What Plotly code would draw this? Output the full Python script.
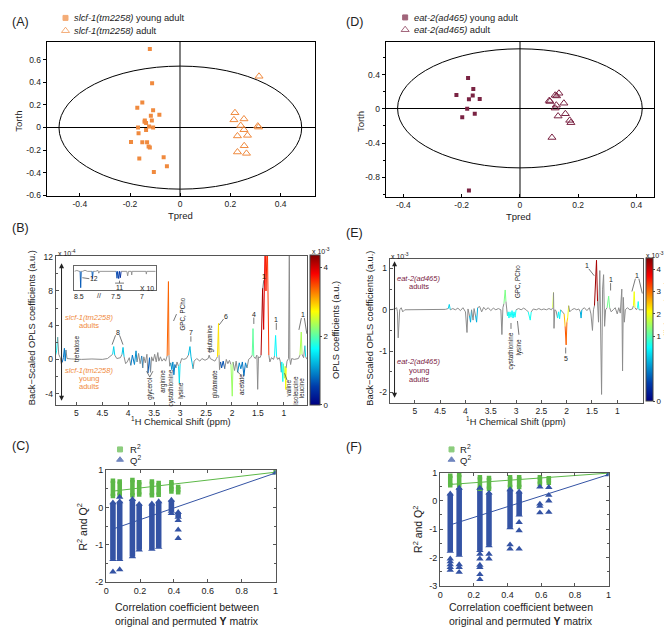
import plotly.graph_objects as go

W, H = 672, 627
FONT = "Liberation Sans, Arial, sans-serif"
ORANGE = "#f08a3e"
MAROON = "#7a2343"
GREEN = "#5cb847"
BLUE = "#3453a4"
GRAY = "#8c8c8c"

# ---------------- Panel A: OPLS-DA scores slcf-1 ----------------
a_young_tpred = [-0.121, -0.112, -0.151, -0.171, -0.108, -0.083, -0.117, -0.141, -0.142, -0.136, -0.113,
                 -0.168, -0.124, -0.108, -0.136, -0.166, -0.151, -0.132, -0.196, -0.126, -0.121, -0.163,
                 -0.066, -0.053, -0.105]
a_young_torth = [0.693, 0.391, 0.220, 0.174, 0.151, 0.113, 0.104, 0.061, 0.050, 0.040, 0.061,
                 0.0, 0.009, 0.0, -0.023, -0.052, -0.13, -0.13, -0.128, -0.168, -0.177, -0.275,
                 -0.264, -0.342, -0.394]
a_adult_tpred = [0.314, 0.218, 0.214, 0.254, 0.241, 0.254, 0.228, 0.268, 0.309, 0.312, 0.255, 0.228, 0.264]
a_adult_torth = [0.452, 0.130, 0.067, 0.075, 0.017, -0.020, -0.075, -0.070, 0.012, 0.003, -0.162, -0.217, -0.229]
a_ellipse = [-0.483, 0.484, -0.545, 0.542]

# ---------------- Panel D: OPLS-DA scores eat-2 ----------------
d_young_tpred = [-0.178, -0.160, -0.218, -0.162, -0.175, -0.138, -0.181, -0.198, -0.155, -0.175]
d_young_torth = [0.358, 0.231, 0.162, 0.154, 0.112, 0.115, 0.0, -0.10, -0.058, -0.954]
d_adult_tpred = [0.134, 0.121, 0.126, 0.101, 0.103, 0.151, 0.125, 0.121, 0.156, 0.131, 0.171, 0.175, 0.110]
d_adult_torth = [0.181, 0.158, 0.150, 0.096, 0.085, 0.065, 0.042, 0.008, -0.058, -0.085, -0.135, -0.162, -0.335]
d_ellipse = [-0.42, 0.42, -0.69, 0.70]

# ---------------- Panel B: back-scaled loadings slcf-1 (x1e-4), coef x1e-3 ----------------
b_ppm = [5.40, 5.38, 5.36, 5.34, 5.31, 5.29, 5.27, 5.25, 5.23, 5.215, 5.20, 5.18, 5.10, 4.90, 4.70, 4.50,
         4.40, 4.35, 4.30, 4.28, 4.26, 4.22, 4.15, 4.12, 4.10, 4.08, 4.05, 4.02, 3.98, 3.95, 3.92, 3.88,
         3.85, 3.83, 3.80, 3.77, 3.74, 3.72, 3.70, 3.67, 3.64, 3.62, 3.59, 3.57, 3.55, 3.52, 3.49, 3.46,
         3.43, 3.41, 3.38, 3.35, 3.31, 3.28, 3.25, 3.225, 3.215, 3.20, 3.18, 3.16, 3.14, 3.12, 3.10, 3.08,
         3.06, 3.03, 3.015, 3.00, 2.97, 2.93, 2.88, 2.84, 2.81, 2.79, 2.77, 2.75, 2.73, 2.68, 2.62, 2.58,
         2.52, 2.46, 2.44, 2.42, 2.38, 2.33, 2.30, 2.28, 2.26, 2.25, 2.24, 2.22, 2.20, 2.17, 2.14, 2.11,
         2.08, 2.05, 2.02, 1.995, 1.98, 1.95, 1.92, 1.89, 1.86, 1.83, 1.80, 1.77, 1.74, 1.71, 1.68, 1.64,
         1.61, 1.595, 1.58, 1.55, 1.52, 1.505, 1.49, 1.46, 1.44, 1.41, 1.39, 1.36, 1.345, 1.32, 1.29, 1.27,
         1.24, 1.20, 1.18, 1.16, 1.14, 1.12, 1.09, 1.07, 1.05, 1.04, 1.02, 1.01, 0.99, 0.975, 0.965, 0.955,
         0.94, 0.91, 0.895, 0.885, 0.87, 0.85, 0.80, 0.72, 0.69, 0.665, 0.65, 0.62, 0.595, 0.58, 0.55]
b_val = [0.5, 1.0, 2.6, 0.6, 0.2, -0.5, -0.3, 0.2, 1.3, -0.2, 1.1, 0.1, 0.05, 0.0, 0.05, 0.0,
         0.1, 0.3, 0.6, 1.5, 0.5, 0.1, 0.2, 0.6, 1.4, 0.3, -0.5, -0.3, 0.2, -0.7, 0.5, -0.6,
         1.0, -0.3, 0.7, -0.5, 0.4, -1.0, 0.3, -0.4, 0.6, -1.6, 0.2, -1.5, 0.3, -0.2, 0.6, -0.3,
         0.8, -0.2, 0.3, -0.2, 0.1, -0.2, 0.4, 9.1, 0.5, -0.8, -0.4, -1.2, -0.3, -1.8, -0.6, -1.0,
         -0.3, -0.8, -2.8, -0.5, 0.1, 0.0, 0.1, 0.5, 1.5, 0.3, -0.4, -1.1, -0.2, 0.1, -0.2, 0.1,
         -0.1, 0.1, 0.5, 0.1, 0.0, -0.2, 0.1, 0.3, 4.2, 0.5, -1.2, -0.3, -1.0, -0.2, -1.1, 0.0,
         -0.5, -0.1, -0.6, -4.3, -0.3, -1.3, -0.2, -1.5, -0.4, -1.1, -0.3, -1.9, -0.4, -1.0, 0.0, 0.2,
         0.5, 3.6, 0.3, 0.1, 0.5, -3.5, 0.3, 0.2, 0.5, 8.3, 3.5, 14.0, 8.0, 14.0, 0.5, -0.3,
         0.2, 0.0, 0.4, 2.8, 0.3, 0.0, 0.2, -0.2, -1.5, -0.3, -2.6, -0.5, -2.2, -0.8, -3.5, -1.0,
         -0.2, 0.1, 14.0, 0.0, -0.6, 0.1, 0.0, 0.1, 0.5, 3.2, 0.6, 0.2, 1.6, 0.3, 0.0]
b_coef = [1.6, 1.6, 1.6, None, None, None, 0.8, 0.8, 0.9, 0.9, 0.9, None, None, None, None, None,
          None, None, 1.4, 1.4, 1.4, None, None, 1.3, 1.3, 1.3, None, None, None, 0.9, 0.9, 0.8,
          1.2, 0.8, None, None, 1.0, 0.8, None, None, None, 0.7, 0.7, 0.8, None, None, None, None,
          1.0, None, None, None, None, None, 3.0, 3.8, 3.0, None, 1.2, 1.0, 1.0, 0.9, 0.9, 0.8,
          None, 1.4, 1.5, 1.4, None, None, None, 1.2, 1.3, 1.2, 1.3, 1.3, None, None, None, None,
          None, None, 1.0, None, None, None, None, 2.8, 2.9, 2.8, None, 0.7, 0.6, 0.7, 0.6, None,
          None, None, 2.2, 2.4, 2.2, None, None, 1.0, 1.0, 0.9, 0.9, 0.8, 0.8, 1.2, None, None,
          2.0, 2.1, 2.0, None, None, None, None, None, 4.0, 4.3, 4.1, 3.7, 3.7, 3.7, 3.5, None,
          None, None, 1.6, 1.6, 1.6, None, None, None, 1.4, 1.5, 1.7, 1.8, 2.2, 2.5, 2.8, 2.6,
          None, None, None, None, None, None, None, None, 2.4, 2.4, 2.3, None, 1.5, 1.5, None]
b_cmax = 4.37

# inset (aromatic region, x10), position 0..1 along broken axis
ins_pos = [0.00, 0.03, 0.06, 0.07, 0.077, 0.084, 0.10, 0.13, 0.16, 0.21, 0.216, 0.223, 0.23, 0.26, 0.29,
           0.30, 0.31, 0.50, 0.515, 0.524, 0.532, 0.545, 0.555, 0.565, 0.575, 0.59, 0.645, 0.655, 0.665,
           0.70, 0.705, 0.71, 0.88, 0.885, 0.89, 1.00]
ins_val = [0.0, 0.05, 0.0, 0.0, -0.9, 0.0, 0.0, 0.06, 0.0, 0.0, 0.0, -0.4, 0.0, 0.0, 0.05,
           -0.1, 0.0, 0.0, 0.0, -0.38, 0.0, -0.4, 0.0, -0.35, 0.0, 0.0, 0.0, -0.25, 0.0,
           0.0, -0.2, 0.0, 0.0, -0.15, 0.0, 0.0]
ins_coef = [None, None, None, 0.7, 0.7, 0.7, None, None, None, None, 0.7, 0.7, 0.7, None, None,
            None, None, None, 0.6, 0.6, 0.6, 0.5, 0.5, 0.4, 0.4, None, None, None, None,
            None, None, None, None, None, None, None]

# ---------------- Panel E: back-scaled loadings eat-2 (x1e-3) ----------------
e_ppm = [5.48, 5.40, 5.36, 5.345, 5.33, 5.315, 5.30, 5.27, 5.24, 5.20, 4.60, 4.40, 4.34, 4.32, 4.30, 4.25,
         4.20, 4.15, 4.10, 4.05, 4.00, 3.97, 3.95, 3.92, 3.90, 3.88, 3.85, 3.83, 3.80, 3.78, 3.76, 3.72,
         3.68, 3.64, 3.60, 3.55, 3.50, 3.45, 3.40, 3.35, 3.30, 3.28, 3.26, 3.24, 3.215, 3.20, 3.185, 3.17,
         3.155, 3.14, 3.12, 3.10, 3.08, 3.06, 3.04, 3.02, 3.00, 2.95, 2.90, 2.85, 2.80, 2.76, 2.74, 2.72,
         2.70, 2.66, 2.60, 2.55, 2.50, 2.45, 2.40, 2.35, 2.30, 2.275, 2.26, 2.25, 2.235, 2.21, 2.18, 2.16,
         2.14, 2.12, 2.08, 2.05, 2.03, 2.01, 1.995, 1.98, 1.96, 1.94, 1.90, 1.85, 1.80, 1.76, 1.73, 1.715,
         1.70, 1.65, 1.60, 1.55, 1.52, 1.49, 1.47, 1.45, 1.41, 1.39, 1.37, 1.345, 1.33, 1.31, 1.29, 1.27,
         1.25, 1.23, 1.20, 1.17, 1.15, 1.12, 1.08, 1.04, 1.00, 0.97, 0.94, 0.91, 0.895, 0.88, 0.86, 0.84,
         0.80, 0.75, 0.70, 0.68, 0.665, 0.65, 0.62, 0.60, 0.585, 0.57, 0.49]
e_val = [0.0, 0.02, 0.05, -0.05, -0.68, -0.1, 0.0, 0.05, -0.05, 0.0, 0.0, 0.01, 0.03, 0.13, 0.0, 0.03,
         0.0, 0.04, -0.02, 0.05, -0.05, -0.55, 0.02, -0.15, -0.3, 0.0, -0.25, 0.03, -0.15, -0.3, 0.05, 0.08,
         -0.05, 0.06, 0.0, 0.05, -0.02, 0.04, 0.0, 0.03, 0.0, -0.6, 0.05, 0.15, 0.48, 0.2, 0.0, -0.15,
         -0.05, -0.2, -0.05, -0.18, -0.02, -0.2, -0.05, -0.18, 0.0, 0.03, 0.0, 0.04, 0.0, -0.05, -0.2, -0.25,
         -0.05, 0.02, 0.0, 0.03, 0.0, 0.02, 0.0, 0.03, 0.0, 0.05, 0.42, -0.45, 0.0, -0.02, -0.2, -0.05,
         -0.22, 0.0, -0.05, -0.1, -0.4, -0.85, -0.3, -0.2, 0.1, -0.05, 0.0, 0.03, 0.0, 0.02, -0.05, -0.2,
         0.0, 0.05, -0.02, 0.05, -0.1, -0.5, 0.0, 0.1, 1.2, 0.2, -0.3, 0.95, -0.4, -2.05, 0.5, 0.85,
         -0.4, 0.0, 0.05, 0.33, 0.05, -0.05, 0.0, 0.05, -0.1, 0.05, -0.08, 0.5, -1.48, 0.3, -0.3, 0.0,
         0.05, 0.0, 0.02, 0.1, 0.44, 0.05, 0.0, 0.05, 0.2, 0.0, 0.0]
e_coef = [None, None, None, None, None, None, None, None, None, None, None, None, 0.7, 0.7, 0.7, None,
          None, None, None, None, None, None, None, 0.6, 0.6, 0.6, None, None, 0.6, 0.6, 0.6, None,
          None, None, None, None, None, None, None, None, None, None, None, 1.2, 1.3, 1.2, None, 0.85,
          0.85, 0.85, 0.85, 0.85, 0.85, 0.8, 0.8, 0.85, 0.85, None, None, None, None, 0.85, 0.85, 0.85,
          0.85, None, None, None, None, None, None, None, None, 1.8, 1.8, None, None, None, 0.8, 0.8,
          0.8, 0.8, None, 2.0, 3.0, 3.3, 2.8, 2.0, 2.0, None, None, None, None, None, 0.6, 0.6,
          0.6, None, None, None, None, None, None, 4.3, 4.3, 4.1, None, None, None, None, None, None,
          None, None, 1.2, 1.2, 1.2, None, None, None, None, None, None, None, None, None, None, None,
          None, None, None, 2.0, 2.0, 2.0, None, 0.85, 0.85, 0.85, None]
e_cb_ticks = [0, 1, 2, 3, 4]
e_cb_pos = [0.0, 0.455, 0.613, 0.769, 0.925]

# ---------------- Panel C: permutation test slcf-1 ----------------
c_x = [0.04, 0.08, 0.155, 0.195, 0.27, 0.31, 0.385, 0.425]
c_r2_hi = [0.72, 0.70, 0.74, 0.68, 0.70, 0.66, 0.68, 0.55]
c_r2_lo = [0.31, 0.33, 0.33, 0.35, 0.33, 0.34, 0.50, 0.41]
c_r2_ex_x = [0.385]
c_r2_ex_y = [0.43]
c_q2_hi = [0.13, 0.16, 0.22, 0.09, 0.10, 0.16, 0.20, -0.13]
c_q2_lo = [-1.40, -1.40, -1.32, -1.14, -1.12, -1.07, -0.10, -0.26]
c_q2_ex_x = [0.04, 0.08, 0.08, 0.385, 0.425, 0.425, 0.425]
c_q2_ex_y = [-1.73, -1.67, 0.28, -0.16, -0.35, -0.60, -0.83]
c_r2_line = [[0.04, 1.0], [0.44, 0.95]]
c_q2_line = [[0.04, 1.0], [-0.58, 0.93]]
c_orig = [1.0, 0.95, 0.93]

# ---------------- Panel F: permutation test eat-2 ----------------
f_x = [0.06, 0.113, 0.236, 0.29, 0.415, 0.469, 0.592, 0.645]
f_r2_hi = [0.89, 0.91, 0.83, 0.81, 0.83, 0.83, 0.83, 0.80]
f_r2_lo = [0.55, 0.55, 0.43, 0.43, 0.49, 0.49, 0.60, 0.64]
f_q2_bx = [0.06, 0.113, 0.236, 0.29, 0.415, 0.469]
f_q2_hi = [0.25, 0.45, 0.45, 0.28, 0.40, 0.32]
f_q2_lo = [-1.78, -1.92, -1.75, -1.58, -0.95, -0.50]
f_q2_ex_x = [0.06, 0.06, 0.06, 0.06, 0.06, 0.113, 0.113, 0.113, 0.236, 0.236, 0.236, 0.236, 0.236, 0.236,
             0.29, 0.29, 0.415, 0.415, 0.469, 0.469, 0.469, 0.592, 0.592, 0.592, 0.592,
             0.645, 0.645, 0.645, 0.645]
f_q2_ex_y = [-2.05, -2.15, -2.25, -2.35, -2.45, -2.25, -2.35, -2.52, -1.88, -2.05, -2.27, -2.35, -2.60, -2.78,
             -1.88, -2.05, -1.55, -1.70, -0.76, -1.05, -1.70, 0.49, -0.11, -0.19, -0.42,
             0.48, 0.20, 0.0, -0.40]
f_r2_line = [[0.06, 1.0], [0.58, 0.98]]
f_q2_line = [[0.06, 1.0], [-0.85, 0.93]]
f_orig = [1.0, 0.98, 0.93]

# ======================================================================
JET = [[0.0, "rgb(0,0,131)"], [0.125, "rgb(0,60,170)"], [0.375, "rgb(5,255,255)"],
       [0.625, "rgb(255,255,0)"], [0.875, "rgb(250,0,0)"], [1.0, "rgb(128,0,0)"]]


def PX(x):
    return x / W


def PY(y):
    return 1 - y / H


def jet(p):
    p = min(max(p, 0.0), 1.0)
    for (p0, c0), (p1, c1) in zip(JET[:-1], JET[1:]):
        if p <= p1:
            a = [int(v) for v in c0[4:-1].split(",")]
            b = [int(v) for v in c1[4:-1].split(",")]
            t = (p - p0) / (p1 - p0)
            return "rgb(%d,%d,%d)" % tuple(round(a[k] + t * (b[k] - a[k])) for k in range(3))
    return JET[-1][1]


def cmap_b(c):
    return jet(c / b_cmax)


def cmap_e(c):
    # piecewise scale of the E colour bar
    if c <= 1:
        p = e_cb_pos[1] * c
    else:
        p = e_cb_pos[1] + (c - 1) * (e_cb_pos[4] - e_cb_pos[1]) / 3.0
    return jet(p)


def spectrum(xs, ys, cs, colorfn, xa, ya, width=1.0):
    out = []
    state = {"x": [], "y": [], "k": "start"}

    def flush():
        if len(state["x"]) > 1:
            k = state["k"]
            col = GRAY if k is None else colorfn(k)
            out.append(go.Scatter(x=state["x"], y=state["y"], mode="lines",
                                  line=dict(color=col, width=width), xaxis=xa, yaxis=ya,
                                  hoverinfo="skip", showlegend=False))

    for i in range(len(xs) - 1):
        a, b = cs[i], cs[i + 1]
        k = None if (a is None or b is None) else round((a + b) / 2, 2)
        if k != state["k"]:
            flush()
            state["x"], state["y"], state["k"] = [xs[i]], [ys[i]], k
        state["x"].append(xs[i + 1])
        state["y"].append(ys[i + 1])
    flush()
    return out


traces = []

# ---- A
traces.append(go.Scatter(x=a_young_tpred, y=a_young_torth, mode="markers", xaxis="x", yaxis="y",
                         marker=dict(symbol="square", size=4, color=ORANGE)))
traces.append(go.Scatter(x=a_adult_tpred, y=a_adult_torth, mode="markers", xaxis="x", yaxis="y",
                         marker=dict(symbol="triangle-up-open", size=7, color=ORANGE, line=dict(width=1))))
# ---- D
traces.append(go.Scatter(x=d_young_tpred, y=d_young_torth, mode="markers", xaxis="x2", yaxis="y2",
                         marker=dict(symbol="square", size=4, color=MAROON)))
traces.append(go.Scatter(x=d_adult_tpred, y=d_adult_torth, mode="markers", xaxis="x2", yaxis="y2",
                         marker=dict(symbol="triangle-up-open", size=7, color=MAROON, line=dict(width=1))))

# ---- B & E spectra
traces += spectrum(b_ppm, b_val, b_coef, cmap_b, "x3", "y3")
traces += spectrum(e_ppm, e_val, e_coef, cmap_e, "x4", "y4")
traces += spectrum(ins_pos, ins_val, ins_coef, cmap_b, "x7", "y7", width=0.9)

# colour bars
traces.append(go.Scatter(x=[b_ppm[0]], y=[b_val[0]], mode="markers", xaxis="x3", yaxis="y3",
                         hoverinfo="skip",
                         marker=dict(size=1, opacity=0, color=[0], colorscale=JET, cmin=0, cmax=b_cmax,
                                     showscale=True,
                                     colorbar=dict(x=PX(302), xanchor="left", y=PY(322), yanchor="middle",
                                                   len=150, lenmode="pixels", thickness=10,
                                                   thicknessmode="pixels", xpad=0, ypad=0,
                                                   outlinewidth=1, outlinecolor="#444",
                                                   tickvals=[0, 2, 4], ticktext=["0", "2", "4"],
                                                   ticks="outside", ticklen=2,
                                                   tickfont=dict(size=8, family=FONT)))))
traces.append(go.Scatter(x=[e_ppm[0]], y=[e_val[0]], mode="markers", xaxis="x4", yaxis="y4",
                         hoverinfo="skip",
                         marker=dict(size=1, opacity=0, color=[0], colorscale=JET, cmin=0, cmax=1,
                                     showscale=True,
                                     colorbar=dict(x=PX(641), xanchor="left", y=PY(322), yanchor="middle",
                                                   len=143, lenmode="pixels", thickness=7,
                                                   thicknessmode="pixels", xpad=0, ypad=0,
                                                   outlinewidth=1, outlinecolor="#444",
                                                   tickvals=e_cb_pos, ticktext=[str(t) for t in e_cb_ticks],
                                                   ticks="outside", ticklen=2,
                                                   tickfont=dict(size=8, family=FONT)))))


# ---- C & F permutation plots
def perm(xa, ya, r2x, r2hi, r2lo, r2exx, r2exy, q2x, q2hi, q2lo, q2exx, q2exy, r2line, q2line, orig):
    out = []
    out.append(go.Scatter(x=r2line[0], y=r2line[1], mode="lines", line=dict(color=GREEN, width=1),
                          xaxis=xa, yaxis=ya))
    out.append(go.Scatter(x=q2line[0], y=q2line[1], mode="lines", line=dict(color=BLUE, width=1),
                          xaxis=xa, yaxis=ya))
    out.append(go.Bar(x=r2x, y=[h - l for h, l in zip(r2hi, r2lo)], base=r2lo, width=0.027,
                      marker=dict(color=GREEN, line=dict(width=0)), xaxis=xa, yaxis=ya))
    out.append(go.Scatter(x=r2x + r2x + r2exx + [orig[0]], y=r2hi + r2lo + r2exy + [orig[1]], mode="markers",
                          marker=dict(symbol="square", size=4.5, color=GREEN), xaxis=xa, yaxis=ya))
    out.append(go.Bar(x=q2x, y=[h - l for h, l in zip(q2hi, q2lo)], base=q2lo, width=0.033,
                      marker=dict(color=BLUE, line=dict(width=0)), xaxis=xa, yaxis=ya))
    out.append(go.Scatter(x=q2x + q2x + q2exx + [orig[0]], y=q2hi + q2lo + q2exy + [orig[2]], mode="markers",
                          marker=dict(symbol="triangle-up", size=6.5, color=BLUE, line=dict(width=0)),
                          xaxis=xa, yaxis=ya))
    return out


traces += perm("x5", "y5", c_x, c_r2_hi, c_r2_lo, c_r2_ex_x, c_r2_ex_y, c_x, c_q2_hi, c_q2_lo,
               c_q2_ex_x, c_q2_ex_y, c_r2_line, c_q2_line, c_orig)
traces += perm("x6", "y6", f_x, f_r2_hi, f_r2_lo, [], [], f_q2_bx, f_q2_hi, f_q2_lo,
               f_q2_ex_x, f_q2_ex_y, f_r2_line, f_q2_line, f_orig)

# ---- legend symbols on a full-page overlay axis (pixel units)
leg_x = [55, 55, 397.7, 397.7, 110, 110, 444.5, 444.5]
leg_y = [5, 18, 4.5, 17, 443.5, 454, 443.5, 454]
leg_sym = ["square", "triangle-up-open", "square", "triangle-up-open", "square", "triangle-up", "square",
           "triangle-up"]
leg_col = [ORANGE, ORANGE, MAROON, MAROON, GREEN, BLUE, GREEN, BLUE]
leg_size = [5, 7, 5, 7, 5, 6, 5, 6]
traces.append(go.Scatter(x=leg_x, y=leg_y, mode="markers", xaxis="x8", yaxis="y8", hoverinfo="skip",
                         marker=dict(symbol=leg_sym, color=leg_col, size=leg_size, line=dict(width=1, color=leg_col))))

fig = go.Figure(data=traces)

TF = dict(family=FONT, size=8.5, color="#222")
TF9 = dict(family=FONT, size=9, color="#222")


def frame(color="black", **kw):
    d = dict(showline=True, mirror=True, linecolor=color, linewidth=1, showgrid=False, zeroline=False,
             tickfont=TF, ticklen=3, tickcolor=color, fixedrange=True)
    d.update(kw)
    return d


def minor(vals, color, ticks="inside"):
    return dict(tickmode="array", tickvals=vals, ticks=ticks, ticklen=2, tickcolor=color, showgrid=False)


def fmt(v):
    return "%g" % v


layout = dict(
    width=W, height=H, autosize=False, margin=dict(l=0, r=0, t=0, b=0),
    paper_bgcolor="white", plot_bgcolor="rgba(0,0,0,0)", showlegend=False, barmode="overlay",
    font=dict(family=FONT, size=9, color="#222"),
    # A
    xaxis=frame(domain=[PX(36), PX(307)], range=[-0.532, 0.538], anchor="y", ticks="inside",
                tickvals=[-0.4, -0.2, 0, 0.2, 0.4], ticktext=[fmt(v) for v in [-0.4, -0.2, 0, 0.2, 0.4]],
                zeroline=True, zerolinecolor="#808080", zerolinewidth=2),
    yaxis=frame(domain=[PY(186), PY(29)], range=[-0.606, 0.759], anchor="x", ticks="outside",
                tickvals=[-0.6, -0.4, -0.2, 0, 0.2, 0.4, 0.6],
                ticktext=[fmt(v) for v in [-0.6, -0.4, -0.2, 0, 0.2, 0.4, 0.6]],
                zeroline=True, zerolinecolor="black", zerolinewidth=1),
    # D
    xaxis2=frame(domain=[PX(378), PX(649)], range=[-0.461, 0.461], anchor="y2", ticks="inside",
                 tickvals=[-0.4, -0.2, 0, 0.2, 0.4], ticktext=[fmt(v) for v in [-0.4, -0.2, 0, 0.2, 0.4]],
                 zeroline=True, zerolinecolor="#808080", zerolinewidth=2),
    yaxis2=frame(domain=[PY(187), PY(29)], range=[-1.03, 0.785], anchor="x2", ticks="outside",
                 tickvals=[-0.8, -0.4, 0, 0.4], ticktext=["-0.8", "-0.4", "0", "0.4"],
                 minor=minor([-1.0, -0.6, -0.2, 0.2, 0.6], "black", "outside"),
                 zeroline=True, zerolinecolor="black", zerolinewidth=1),
    # B
    xaxis3=frame("#555", domain=[PX(45), PX(299)], range=[5.40, 0.548], anchor="y3", ticks="inside",
                 tickvals=[5, 4.5, 4, 3.5, 3, 2.5, 2, 1.5, 1],
                 ticktext=["5", "4.5", "4", "3.5", "3", "2.5", "2", "1.5", "1"]),
    yaxis3=frame("#555", domain=[PY(398), PY(247)], range=[-5.29, 12.08], anchor="x3", ticks="inside",
                 tickvals=[-4, 0, 4, 8, 12], ticktext=["-4", "0", "4", "8", "12"],
                 minor=minor([-2, 2, 6, 10], "#555")),
    # E
    xaxis4=frame("#555", domain=[PX(382), PX(638)], range=[5.50, 0.485], anchor="y4", ticks="inside",
                 tickvals=[5, 4.5, 4, 3.5, 3, 2.5, 2, 1.5, 1],
                 ticktext=["5", "4.5", "4", "3.5", "3", "2.5", "2", "1.5", "1"]),
    yaxis4=frame("#555", domain=[PY(396), PY(250)], range=[-2.25, 1.23], anchor="x4", ticks="inside",
                 tickvals=[-2, -1, 0, 1], ticktext=["-2", "-1", "0", "1"],
                 minor=minor([-1.5, -0.5, 0.5], "#555")),
    # C
    xaxis5=frame("#555", domain=[PX(96), PX(267)], range=[0, 1.0], anchor="y5", ticks="inside", mirror="ticks",
                 tickvals=[0, 0.2, 0.4, 0.6, 0.8, 1], ticktext=["0", "0.2", "0.4", "0.6", "0.8", "1"],
                 tickfont=TF9),
    yaxis5=frame("#555", domain=[PY(578), PY(464)], range=[-2.0, 1.02], anchor="x5", ticks="inside",
                 mirror="ticks", tickvals=[-2, -1, 0, 1], ticktext=["-2", "-1", "0", "1"],
                 minor=minor([-1.5, -0.5, 0.5], "#555"), tickfont=TF9),
    # F
    xaxis6=frame("#555", domain=[PX(433), PX(603)], range=[0, 1.0], anchor="y6", ticks="inside", mirror="ticks",
                 tickvals=[0, 0.2, 0.4, 0.6, 0.8, 1], ticktext=["0", "0.2", "0.4", "0.6", "0.8", "1"],
                 tickfont=TF9),
    yaxis6=frame("#555", domain=[PY(582), PY(467)], range=[-3.0, 1.0], anchor="x6", ticks="inside",
                 mirror="ticks", tickvals=[-3, -2, -1, 0, 1], ticktext=["-3", "-2", "-1", "0", "1"],
                 minor=minor([-2.5, -1.5, -0.5, 0.5], "#555"), tickfont=TF9),
    # inset of B
    xaxis7=frame("#666", domain=[PX(64), PX(146)], range=[0, 1], anchor="y7", showticklabels=False, ticks=""),
    yaxis7=frame("#666", domain=[PY(281), PY(257)], range=[-1.0, 0.3], anchor="x7", showticklabels=False,
                 ticks=""),
    # overlay for legend symbols
    xaxis8=dict(domain=[0, 1], range=[0, W], anchor="y8", visible=False, fixedrange=True),
    yaxis8=dict(domain=[0, 1], range=[H, 0], anchor="x8", visible=False, fixedrange=True),
)

annotations = []
shapes = []


def T(text, x, y, size=9.0, color="#222", angle=0, xanchor="center", yanchor="middle"):
    annotations.append(dict(text=text, x=PX(x), y=PY(y), xref="paper", yref="paper", showarrow=False,
                            font=dict(size=size, color=color, family=FONT), textangle=angle,
                            xanchor=xanchor, yanchor=yanchor, borderpad=0))


def L(x0, y0, x1, y1, color="#555", w=0.8):
    shapes.append(dict(type="line", xref="paper", yref="paper", x0=PX(x0), y0=PY(y0), x1=PX(x1), y1=PY(y1),
                       line=dict(color=color, width=w)))


def ARROW(x, y0, y1):
    annotations.append(dict(text="", x=PX(x), y=PY(y1), xref="paper", yref="paper", showarrow=True,
                            ax=0, ay=-(y1 - y0), arrowhead=2, arrowsize=1, arrowwidth=1, arrowcolor="#222",
                            arrowside="end+start", standoff=0, startstandoff=0))


# ellipses
shapes.append(dict(type="circle", xref="x", yref="y", x0=a_ellipse[0], x1=a_ellipse[1], y0=a_ellipse[2],
                   y1=a_ellipse[3], line=dict(color="black", width=1)))
shapes.append(dict(type="circle", xref="x2", yref="y2", x0=d_ellipse[0], x1=d_ellipse[1], y0=d_ellipse[2],
                   y1=d_ellipse[3], line=dict(color="black", width=1)))

# panel letters
for lab, x, y in [("(A)", 0, 9), ("(B)", 0, 218), ("(C)", 0, 440), ("(D)", 337, 9), ("(E)", 337, 224),
                  ("(F)", 337, 441)]:
    T(lab, x, y, size=12.5, xanchor="left")

# A texts
T("<i>slcf-1(tm2258)</i> young adult", 63, 5.5, size=9.3, xanchor="left")
T("<i>slcf-1(tm2258)</i> adult", 63, 18.5, size=9.3, xanchor="left")
T("Torth", 7.5, 110, size=9.5, angle=-90)
T("Tpred", 171, 206, size=9.5)
# D texts
T("<i>eat-2(ad465)</i> young adult", 406, 5, size=9.3, xanchor="left")
T("<i>eat-2(ad465)</i> adult", 406, 17.5, size=9.3, xanchor="left")
T("Torth", 352, 110, size=9.5, angle=-90)
T("Tpred", 512, 207, size=9.5)

# B texts
T("x 10<sup>-4</sup>", 46.5, 244, size=7, xanchor="left")
T("Back−Scaled OPLS coefficients (a.u.)", 21.5, 320, size=9.3, angle=-90)
T("<sup>1</sup>H Chemical Shift (ppm)", 172, 415, size=9.3)
T("OPLS coefficients (a.u.)", 328, 322, size=9.3, angle=-90)
T("x 10<sup>-3</sup>", 303, 242, size=7, xanchor="left")
ARROW(51, 255, 394)
T("<i>slcf-1(tm2258)</i>", 78.5, 309, size=7.5, color=ORANGE)
T("adults", 78.5, 317.5, size=7.5, color=ORANGE)
T("<i>slcf-1(tm2258)</i>", 78.5, 363, size=7.5, color=ORANGE)
T("young", 78.5, 371.5, size=7.5, color=ORANGE)
T("adults", 78.5, 380, size=7.5, color=ORANGE)
T("trehalose", 66, 341, size=6.3, angle=-90)
T("8", 107.6, 324.5, size=7)
L(105.5, 327.5, 102, 337)
L(109.5, 327.5, 113, 337)
T("glycerol", 140, 382, size=6.3, angle=-90)
L(136.8, 364, 140, 370)
L(143.2, 364, 140, 370)
T("arginine", 153, 374, size=6.3, angle=-90)
T("cystathionine", 161, 381, size=6.3, angle=-90)
T("lysine", 171.5, 383, size=6.3, angle=-90)
T("GPC, PCho", 173, 306, size=6.3, angle=-90)
L(164, 313, 167, 306)
T("7", 181.5, 325, size=7)
L(181.5, 328.5, 181.5, 334)
T("glutamine", 200.5, 331, size=6.3, angle=-90)
L(200.5, 340, 200.5, 345)
T("6", 216.5, 308, size=7)
L(210, 317, 214.5, 311)
T("glutamate", 206, 377, size=6.3, angle=-90)
T("acetate", 233, 377, size=6.3, angle=-90)
L(228, 364, 232, 368)
T("4", 245, 306, size=7)
L(245, 309.5, 245, 316)
T("1", 255, 268, size=7)
L(255, 271.5, 254, 281)
T("1", 267.7, 311.5, size=7)
L(267.7, 315, 267.7, 322)
T("1", 294.5, 306.5, size=7)
L(293, 310, 290.5, 322)
L(296, 310, 298.5, 326)
T("valine", 280, 381, size=6.3, angle=-90)
L(276, 366, 278.5, 373)
T("isoleucine", 287.3, 383, size=6.3, angle=-90)
T("leucine", 294, 381, size=6.3, angle=-90)
# inset labels
T("12", 84, 270, size=6.8)
L(72, 269, 79, 270)
T("11", 109.5, 279, size=6.8)
L(105, 274.5, 114, 274.5)
L(109.5, 272, 109.5, 274.5)
T("X 10", 137, 279.5, size=6.8)
T("8.5", 68.5, 288, size=7)
T("//", 89, 287.5, size=7)
T("7.5", 105.5, 288, size=7)
T("7", 132, 288, size=7)

# E texts
T("x 10<sup>-3</sup>", 382.5, 246.5, size=7, xanchor="left")
T("Back−Scaled OPLS coefficients (a.u.)", 362, 320, size=9.3, angle=-90)
T("<sup>1</sup>H Chemical Shift (ppm)", 510, 415, size=9.3)
T("OPLS coefficients (a.u.)", 663, 322, size=9.3, angle=-90)
T("x 10<sup>-3</sup>", 640, 246, size=7, xanchor="left")
ARROW(387, 253, 391)
T("<i>eat-2(ad465)</i>", 411.5, 269.5, size=7.5, color=MAROON)
T("adults", 411.5, 278.3, size=7.5, color=MAROON)
T("<i>eat-2(ad465)</i>", 411.5, 354.5, size=7.5, color=MAROON)
T("young", 411.5, 363.5, size=7.5, color=MAROON)
T("adults", 411.5, 372.5, size=7.5, color=MAROON)
T("GPC, PCho", 511, 273, size=6.3, angle=-90)
T("cystathionine", 504.5, 343, size=6.3, angle=-90)
L(504.5, 315, 504.5, 321)
T("lysine", 512.5, 339, size=6.3, angle=-90)
L(511, 313, 512.5, 327)
T("5", 559.7, 351, size=7)
L(559.7, 340, 559.7, 346)
T("1", 581, 256.5, size=7)
L(583, 260, 588.5, 267)
T("1", 605, 271, size=7)
L(605, 274.5, 605, 282)
T("1", 631.7, 267, size=7)
L(630, 270, 626.5, 283)
L(633.5, 270, 637, 285)

# C texts
T("R<sup>2</sup>", 119, 443, size=9.5, xanchor="left")
T("Q<sup>2</sup>", 119, 454, size=9.5, xanchor="left")
T("R<sup>2</sup> and Q<sup>2</sup>", 71.5, 522, size=10.5, angle=-90)
T("Correlation coefficient between", 177.5, 603.5, size=10.5)
T("original and permuted <b>Y</b> matrix", 177.5, 618, size=10.5)
# F texts
T("R<sup>2</sup>", 452, 443, size=9.5, xanchor="left")
T("Q<sup>2</sup>", 452, 454, size=9.5, xanchor="left")
T("R<sup>2</sup> and Q<sup>2</sup>", 410, 525, size=10.5, angle=-90)
T("Correlation coefficient between", 515, 603.5, size=10.5)
T("original and permuted <b>Y</b> matrix", 515, 618, size=10.5)

layout["annotations"] = annotations
layout["shapes"] = shapes
fig.update_layout(**layout)
fig.write_html("out.html")
